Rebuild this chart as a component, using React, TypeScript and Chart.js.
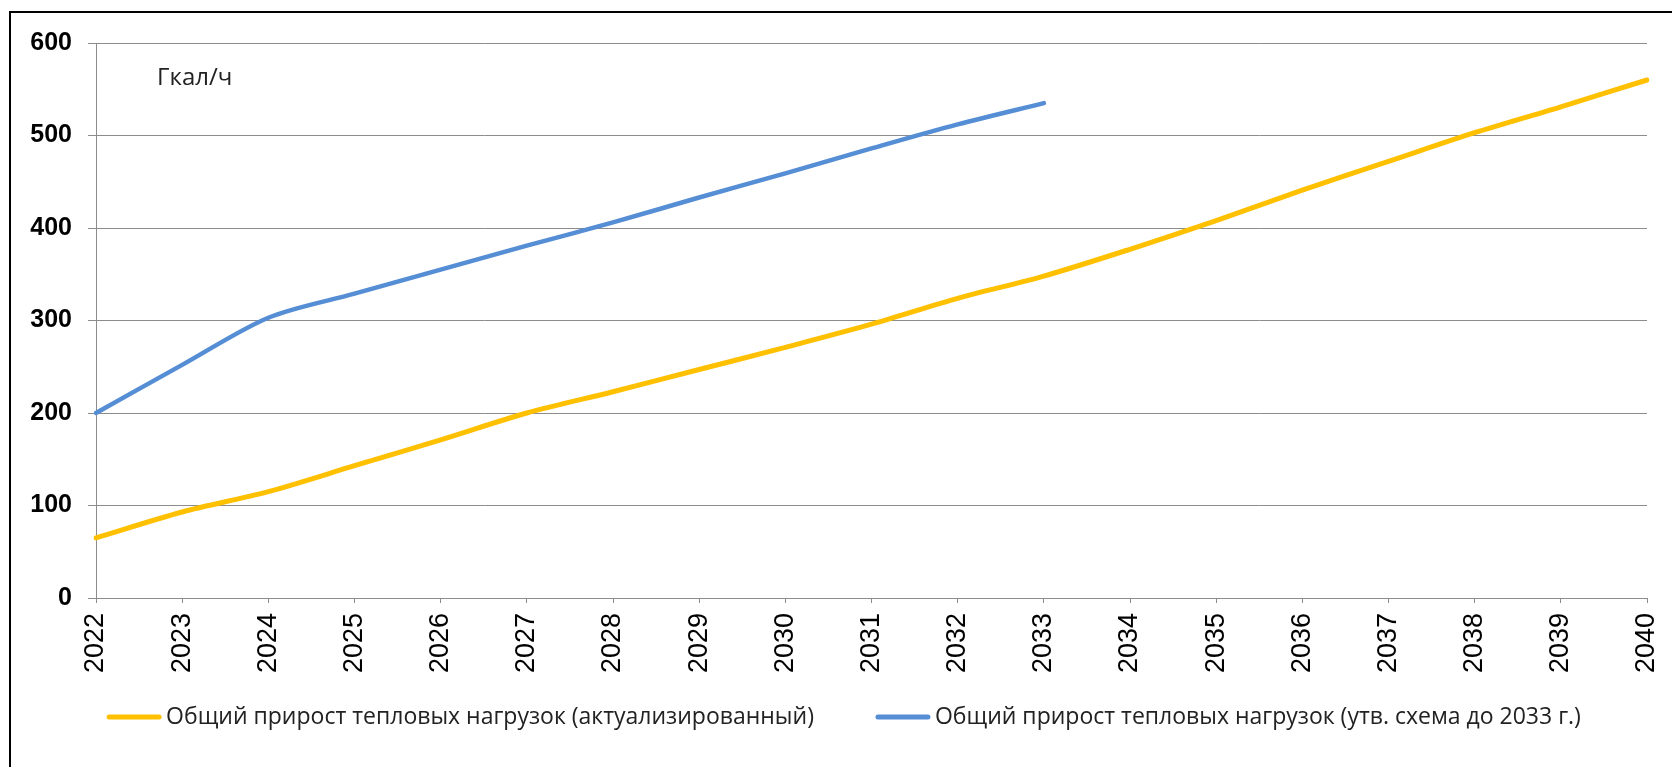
import React, { useEffect, useRef } from "react";
import { Chart, registerables } from "chart.js";

Chart.register(...registerables);

const years = [
  "2022", "2023", "2024", "2025", "2026", "2027", "2028", "2029", "2030", "2031",
  "2032", "2033", "2034", "2035", "2036", "2037", "2038", "2039", "2040",
];

const actualizedLoad = [65, 93, 115, 143, 171, 200, 223, 247, 271, 296, 324, 348, 377, 408, 441, 472, 503, 531, 560];

const approvedLoad = [200, 252, 303, 329, 355, 381, 406, 433, 459, 486, 512, 535, null, null, null, null, null, null, null];

const seriesNames = [
  "Общий прирост тепловых нагрузок (актуализированный)",
  "Общий прирост тепловых нагрузок (утв. схема до 2033 г.)",
];

const unitLabel = "Гкал/ч";

const yTicks = [0, 100, 200, 300, 400, 500, 600];

const W = 1672;
const H = 767;
const GRID = "#8c8c8c";
const TEXT_FONT = '"Open Sans", "DejaVu Sans", sans-serif';

const decorPlugin = {
  id: "decor",
  afterDraw(chart: any) {
    const ctx = chart.ctx;
    const area = chart.chartArea;
    ctx.save();
    // unit label
    ctx.font = `24px ${TEXT_FONT}`;
    ctx.fillStyle = "#222";
    ctx.textAlign = "left";
    ctx.textBaseline = "middle";
    ctx.fillText(unitLabel, area.left + 61, area.top + 35);

    // legend
    ctx.font = `23px ${TEXT_FONT}`;
    const lineLen = 54;
    const gapText = 5;
    const gapItems = 62;
    const items = chart.data.datasets.map((ds: any) => ({
      label: ds.label,
      color: ds.borderColor,
      tw: ctx.measureText(ds.label).width,
    }));
    let total = 0;
    items.forEach((it: any, i: number) => {
      total += lineLen + gapText + it.tw + (i > 0 ? gapItems : 0);
    });
    let x = 844 - total / 2;
    const y = 717;
    items.forEach((it: any, i: number) => {
      if (i > 0) x += gapItems;
      ctx.beginPath();
      ctx.strokeStyle = it.color;
      ctx.lineWidth = 5;
      ctx.lineCap = "round";
      ctx.moveTo(x + 2, y);
      ctx.lineTo(x + lineLen - 2, y);
      ctx.stroke();
      x += lineLen + gapText;
      ctx.fillStyle = "#222";
      ctx.fillText(it.label, x, y);
      x += it.tw;
    });
    ctx.restore();
  },
};

export default function App() {
  const ref = useRef<HTMLCanvasElement>(null);

  useEffect(() => {
    if (!ref.current) return;
    const chart = new Chart(ref.current, {
      type: "line",
      data: {
        labels: years,
        datasets: [
          {
            label: seriesNames[0],
            data: actualizedLoad,
            borderColor: "#FFC000",
            backgroundColor: "#FFC000",
            borderWidth: 5,
            tension: 0.3,
            pointRadius: 0,
            borderCapStyle: "round",
            borderJoinStyle: "round",
            fill: false,
          },
          {
            label: seriesNames[1],
            data: approvedLoad,
            borderColor: "#558ED5",
            backgroundColor: "#558ED5",
            borderWidth: 4.5,
            tension: 0.3,
            pointRadius: 0,
            borderCapStyle: "round",
            borderJoinStyle: "round",
            spanGaps: false,
            fill: false,
          },
        ],
      },
      options: {
        responsive: false,
        animation: false,
        devicePixelRatio: 1,
        layout: { padding: { left: 0, right: 25, top: 43, bottom: 0 } },
        plugins: {
          legend: { display: false },
          tooltip: { enabled: false },
          title: { display: false },
        },
        scales: {
          x: {
            type: "category",
            offset: false,
            grid: {
              display: true,
              drawOnChartArea: false,
              drawTicks: true,
              tickLength: 5,
              color: GRID,
              lineWidth: 1,
            },
            border: { display: true, color: GRID, width: 1 },
            ticks: {
              autoSkip: false,
              minRotation: 90,
              maxRotation: 90,
              padding: 10,
              color: "#000",
              font: { family: '"Liberation Sans", Arial, sans-serif', size: 27 },
            },
            afterFit(scale: any) {
              scale.height = H - 598;
              scale.paddingLeft = 0;
              scale.paddingRight = 0;
            },
          },
          y: {
            type: "linear",
            min: 0,
            max: 600,
            afterBuildTicks(scale: any) {
              scale.ticks = yTicks.map((v) => ({ value: v }));
            },
            grid: {
              display: true,
              drawOnChartArea: true,
              drawTicks: true,
              tickLength: 8,
              color: GRID,
              lineWidth: 1,
            },
            border: { display: true, color: GRID, width: 1 },
            ticks: {
              padding: 16,
              color: "#000",
              font: { family: '"Liberation Sans", Arial, sans-serif', size: 25, weight: "bold" },
            },
            afterFit(scale: any) {
              scale.width = 96;
              scale.paddingTop = 0;
              scale.paddingBottom = 0;
            },
          },
        },
      },
      plugins: [decorPlugin],
    } as any);
    return () => chart.destroy();
  }, []);

  return (
    <div style={{ position: "absolute", left: 0, top: 0, width: W, height: H, background: "#fff", overflow: "hidden" }}>
      <div
        style={{
          position: "absolute",
          left: 9,
          top: 11,
          right: 0,
          bottom: 0,
          borderLeft: "2px solid #000",
          borderTop: "2px solid #000",
        }}
      />
      <canvas ref={ref} width={W} height={H} style={{ position: "absolute", left: 0, top: 0 }} />
    </div>
  );
}
